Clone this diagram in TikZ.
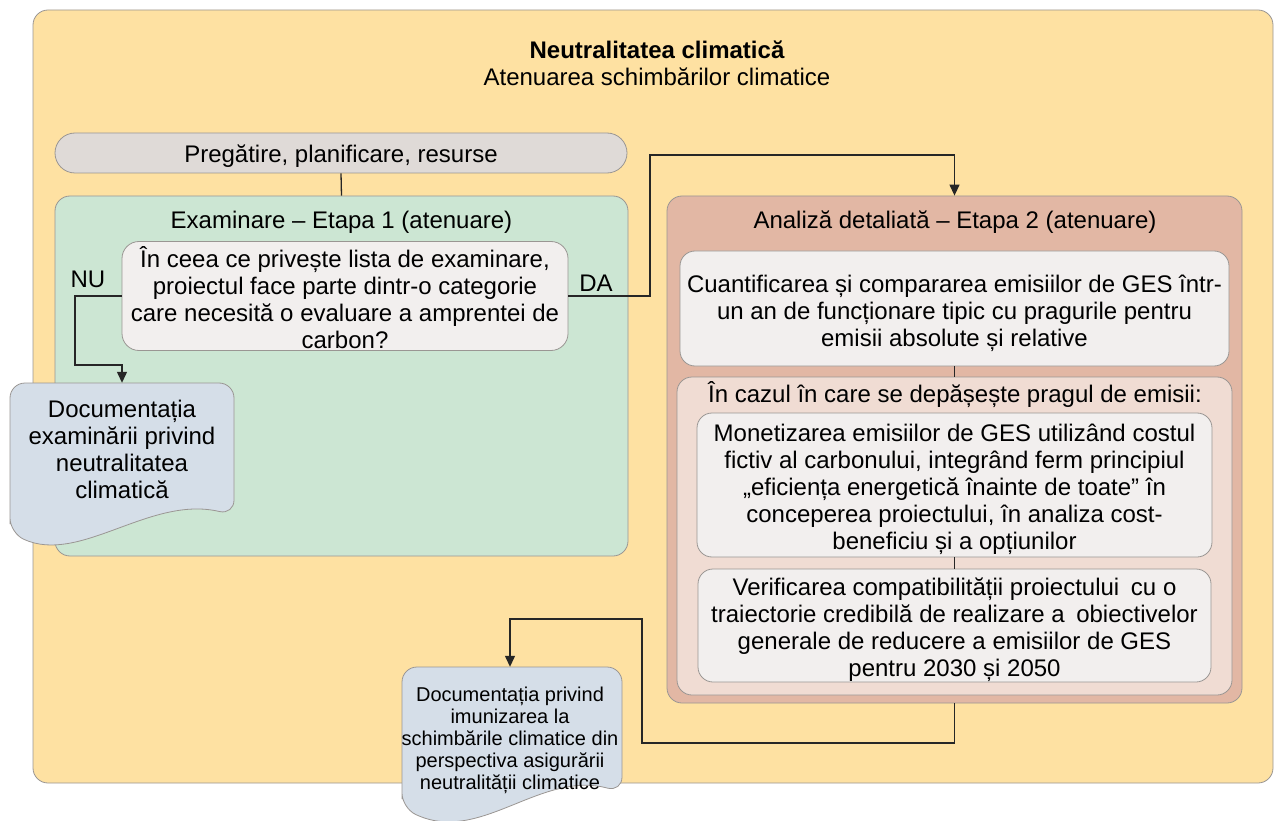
\documentclass[tikz,border=0pt]{standalone}
\usepackage{fontspec}
\setmainfont{Liberation Sans}
\usetikzlibrary{arrows.meta}
\definecolor{galben}{HTML}{FEE1A2}
\definecolor{gri}{HTML}{DFDAD7}
\definecolor{verde}{HTML}{CCE6D3}
\definecolor{alb}{HTML}{F2EFEE}
\definecolor{albastru}{HTML}{D5DEE8}
\definecolor{rosu}{HTML}{E2B7A4}
\definecolor{roz}{HTML}{F0DCD3}
\definecolor{contur}{HTML}{9A9693}
\tikzset{
  cutie/.style={draw=contur, line width=0.8pt, rounded corners=15pt, inner sep=0pt},
  eticheta/.style={inner sep=0pt, align=center},
  docforma/.style={fill=albastru, draw=contur, line width=0.8pt, rounded corners=15pt},
  sageata/.style={draw=black!85, line width=1.3pt, -{Triangle[length=11pt,width=10pt]}},
  linie/.style={draw=black!85, line width=1.3pt}
}
\begin{document}
\begin{tikzpicture}[x=1pt,y=-1pt,font=\fontsize{24}{27}\selectfont]
  \useasboundingbox (0,0) rectangle (1275,821);
  % cadrul general
  \node[cutie, fill=galben, minimum width=1240pt, minimum height=773pt] (cadru) at (653,396.5) {};
  \node[eticheta, font=\fontsize{24}{27}\selectfont\bfseries] (titlu) at (657,50) {Neutralitatea climatică};
  \node[eticheta] (subtitlu) at (657,77) {Atenuarea schimbărilor climatice};

  % etapa 1
  \node[cutie, fill=gri, rounded corners=20pt, minimum width=572pt, minimum height=40pt] (prep) at (341,153) {};
  \node[eticheta] (prept) at (341,156) {Pregătire, planificare, resurse};
  \node[cutie, fill=verde, minimum width=573pt, minimum height=360pt] (e1) at (341.5,376) {};
  \node[eticheta] (e1t) at (341.5,222) {Examinare – Etapa 1 (atenuare)};
  \node[cutie, fill=alb, rounded corners=17pt, minimum width=446pt, minimum height=109pt] (q) at (345,296) {};
  \node[eticheta] (qt) at (345,298)
    {În ceea ce privește lista de examinare,\\proiectul face parte dintr-o categorie\\care necesită o evaluare a amprentei de\\carbon?};
  \node[eticheta] (nu) at (88,279) {NU};
  \node[eticheta] (da) at (596,283) {DA};

  %documentul de examinare
  \filldraw[docforma] (10,533) -- (10,383) -- (234,383) -- (234,515)
    .. controls (150,495) and (80,565) .. (10,533) -- cycle;
  \node[eticheta, minimum width=224pt, minimum height=132pt] (doc1) at (122,449)
    {Documentația\\examinării privind\\neutralitatea\\climatică};

  % etapa 2
  \node[cutie, fill=rosu, minimum width=575pt, minimum height=507pt] (e2) at (954.5,449.5) {};
  \node[eticheta] (e2t) at (955,222) {Analiză detaliată – Etapa 2 (atenuare)};
  \node[cutie, fill=alb, minimum width=549pt, minimum height=115pt] (qa) at (954.5,308.5) {};
  \node[eticheta] (qat) at (954.5,313)
    {Cuantificarea și compararea emisiilor de GES într-\\un an de funcționare tipic cu pragurile pentru\\emisii absolute și relative};
  \node[cutie, fill=roz, minimum width=555pt, minimum height=318pt] (ex) at (954.5,536) {};
  \node[eticheta] (ext) at (955,395) {În cazul în care se depășește pragul de emisii:};
  \node[cutie, fill=alb, minimum width=515pt, minimum height=144pt] (mb) at (954.5,485) {};
  \node[eticheta] (mbt) at (954.5,489)
    {Monetizarea emisiilor de GES utilizând costul\\fictiv al carbonului, integrând ferm principiul\\„eficiența energetică înainte de toate” în\\conceperea proiectului, în analiza cost-\\beneficiu și a opțiunilor};
  \node[cutie, fill=alb, minimum width=513pt, minimum height=113pt] (vc) at (954.5,625.5) {};
  \node[eticheta] (vct) at (954.5,629.5)
    {Verificarea compatibilității proiectului\hspace{5pt} cu o\\traiectorie credibilă de realizare a\hspace{5pt} obiectivelor\\generale de reducere a emisiilor de GES\\pentru 2030 și 2050};

  %documentul final
  \filldraw[docforma] (402,808) -- (402,667) -- (622,667) -- (622,792)
    .. controls (540,770) and (480,845) .. (402,808) -- cycle;
  \node[eticheta, font=\fontsize{20}{22}\selectfont, minimum width=220pt, minimum height=146pt] (doc2) at (510,740)
    {Documentația privind\\imunizarea la\\schimbările climatice din\\perspectiva asigurării\\neutralității climatice};

  % legaturi
  \draw[linie] (prep.south) -- (e1.north);
  \draw[sageata] (q.west) -| (75,365) -| (doc1.north);
  \draw[sageata] (q.east) -| (650,155) -| (e2.north);
  \draw[linie] (qa.south) -- (ex.north);
  \draw[linie] (mb.south) -- (vc.north);
  \draw[sageata] (e2.south) |- (642,743) |- (510,619) -- (doc2.north);
\end{tikzpicture}
\end{document}
